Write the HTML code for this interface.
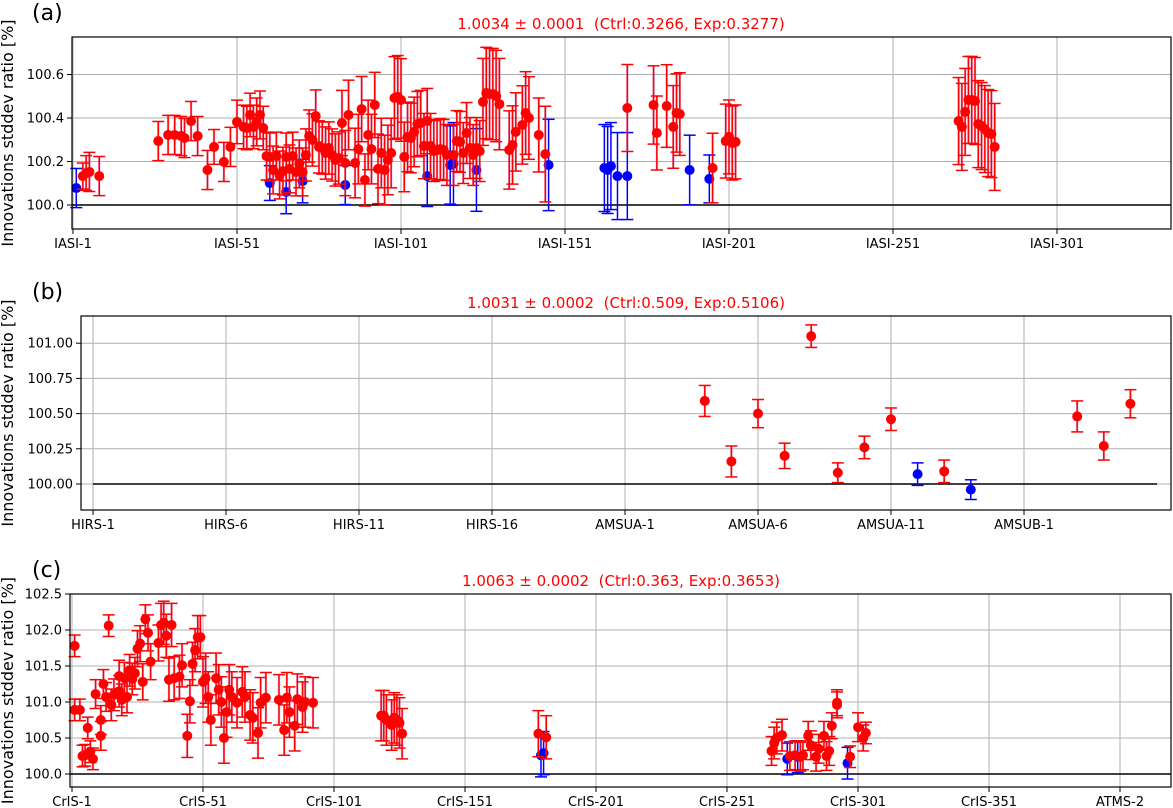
<!DOCTYPE html>
<html><head><meta charset="utf-8"><style>
body{margin:0;background:#fff;}
svg{display:block;font-family:"DejaVu Sans","Liberation Sans",sans-serif;}
text{white-space:pre;}
</style></head><body>
<svg id="fig" width="1173" height="808" viewBox="0 0 1173 808" xmlns="http://www.w3.org/2000/svg"></svg>
<script>
// ---------- Panel (a) data: IASI ----------
const aTickLabels = ["IASI-1","IASI-51","IASI-101","IASI-151","IASI-201","IASI-251","IASI-301"];
const aTickIdx = [0,50,100,150,200,250,300];
const aYTicks = [100.0,100.2,100.4,100.6];
const aBlueCh = [1,60,65,70,83,108,115,116,123,145,162,163,164,166,169,188,194];
const aBlueVal = [100.078,100.101,100.060,100.110,100.092,100.133,100.184,100.189,100.161,100.184,100.170,100.161,100.179,100.133,100.133,100.161,100.120];
const aBlueErr = [0.09,0.08,0.10,0.10,0.09,0.14,0.18,0.19,0.19,0.21,0.20,0.20,0.20,0.20,0.20,0.16,0.11];
const aRedCh = [3,4,5,8,26,29,31,33,34,36,38,41,43,46,48,50,52,53,54,55,56,57,58,59,60,61,62,63,64,65,66,67,68,69,70,71,72,73,74,75,76,77,78,79,80,81,82,83,84,86,87,88,89,90,91,92,93,94,95,96,97,98,99,100,101,102,103,104,105,106,107,108,109,110,111,112,113,114,116,117,118,119,120,121,122,123,124,125,126,127,128,129,130,133,134,135,137,138,139,142,144,169,177,178,181,183,184,185,195,199,200,201,202,270,271,272,273,274,275,276,277,278,279,280,281];
const aRedVal = [100.133,100.147,100.152,100.133,100.294,100.322,100.322,100.317,100.308,100.386,100.317,100.161,100.267,100.198,100.267,100.382,100.359,100.354,100.414,100.359,100.382,100.414,100.354,100.225,100.221,100.161,100.225,100.138,100.156,100.221,100.166,100.225,100.152,100.189,100.152,100.230,100.317,100.299,100.409,100.267,100.262,100.239,100.262,100.230,100.207,100.216,100.377,100.193,100.414,100.193,100.257,100.441,100.115,100.322,100.257,100.460,100.166,100.239,100.161,100.207,100.239,100.492,100.497,100.483,100.221,100.313,100.308,100.336,100.372,100.377,100.271,100.386,100.271,100.248,100.253,100.257,100.253,100.230,100.230,100.294,100.290,100.239,100.331,100.262,100.230,100.262,100.248,100.474,100.515,100.510,100.510,100.501,100.464,100.253,100.276,100.336,100.368,100.423,100.400,100.322,100.234,100.446,100.460,100.331,100.455,100.359,100.423,100.418,100.170,100.294,100.313,100.285,100.290,100.386,100.359,100.428,100.483,100.483,100.478,100.372,100.363,100.349,100.331,100.326,100.267];
const aRedErr = [0.06,0.08,0.09,0.09,0.09,0.09,0.09,0.09,0.09,0.09,0.09,0.09,0.08,0.09,0.09,0.10,0.10,0.10,0.10,0.10,0.11,0.11,0.10,0.11,0.11,0.11,0.11,0.11,0.11,0.11,0.11,0.11,0.11,0.11,0.11,0.12,0.12,0.12,0.12,0.12,0.12,0.12,0.12,0.12,0.12,0.12,0.15,0.15,0.16,0.16,0.16,0.15,0.12,0.16,0.16,0.15,0.16,0.16,0.16,0.16,0.16,0.19,0.19,0.19,0.16,0.16,0.16,0.16,0.15,0.15,0.15,0.15,0.15,0.14,0.14,0.14,0.14,0.14,0.14,0.14,0.14,0.14,0.14,0.14,0.14,0.14,0.14,0.20,0.21,0.21,0.21,0.21,0.21,0.18,0.18,0.18,0.18,0.19,0.19,0.17,0.22,0.20,0.18,0.17,0.19,0.19,0.18,0.19,0.16,0.17,0.17,0.17,0.17,0.20,0.20,0.20,0.20,0.20,0.20,0.20,0.20,0.20,0.20,0.20,0.20];

// ---------- Panel (b) data: HIRS / AMSU ----------
const bTickLabels = ["HIRS-1","HIRS-6","HIRS-11","HIRS-16","AMSUA-1","AMSUA-6","AMSUA-11","AMSUB-1"];
const bTickIdx = [0,5,10,15,20,25,30,35];
const bYTicks = [100.00,100.25,100.50,100.75,101.00];
const bBlueCh = [31,33];
const bBlueVal = [100.07,99.96];
const bBlueErr = [0.08,0.07];
const bRedCh = [23,24,25,26,27,28,29,30,32,37,38,39];
const bRedVal = [100.59,100.16,100.50,100.20,101.05,100.08,100.26,100.46,100.09,100.48,100.27,100.57];
const bRedErr = [0.11,0.11,0.10,0.09,0.08,0.07,0.08,0.08,0.08,0.11,0.10,0.10];

// ---------- Panel (c) data: CrIS ----------
const cTickLabels = ["CrIS-1","CrIS-51","CrIS-101","CrIS-151","CrIS-201","CrIS-251","CrIS-301","CrIS-351","ATMS-2"];
const cTickIdx = [0,50,100,150,200,250,300,350,400];
const cYTicks = [100.0,100.5,101.0,101.5,102.0,102.5];
const cBlueCh = [179,180,273,277,296];
const cBlueVal = [100.26,100.29,100.21,100.24,100.15];
const cBlueErr = [0.30,0.30,0.22,0.22,0.22];
const cRedCh = [1,1,3,6,4,5,7,8,11,11,9,12,13,14,15,16,18,18,19,21,20,22,24,23,25,26,27,28,29,30,33,34,35,36,38,37,39,41,42,44,45,46,47,48,49,50,51,52,53,55,56,57,58,59,60,61,63,65,66,68,69,71,72,74,79,81,82,83,85,86,88,89,92,118,119,120,122,123,124,125,126,178,181,267,268,269,271,274,276,278,279,281,282,284,285,287,288,289,290,292,292,297,300,302,303];
const cRedVal = [101.78,100.89,100.89,100.64,100.25,100.26,100.31,100.21,100.75,100.53,101.11,101.25,101.07,102.06,100.96,101.10,101.15,101.36,101.03,101.07,101.33,101.44,101.40,101.32,101.74,101.81,101.28,102.15,101.96,101.56,101.82,102.07,102.10,101.92,102.07,101.31,101.33,101.35,101.51,100.53,101.01,101.53,101.72,101.90,101.90,101.28,101.33,101.07,100.75,101.33,101.17,101.00,100.50,100.86,101.17,101.07,100.99,101.14,101.07,100.82,100.78,100.57,100.99,101.06,101.03,100.61,101.06,100.86,100.67,101.04,100.93,101.00,100.99,100.81,100.81,100.75,100.68,100.78,100.75,100.71,100.56,100.56,100.51,100.32,100.43,100.50,100.54,100.25,100.26,100.24,100.26,100.53,100.40,100.24,100.35,100.53,100.25,100.32,100.67,100.99,100.96,100.24,100.65,100.50,100.57];
const cRedErr = [0.15,0.15,0.15,0.15,0.15,0.15,0.15,0.15,0.20,0.20,0.20,0.20,0.20,0.15,0.22,0.22,0.22,0.22,0.22,0.22,0.22,0.22,0.22,0.22,0.25,0.25,0.25,0.20,0.25,0.25,0.25,0.30,0.30,0.30,0.30,0.30,0.30,0.30,0.30,0.30,0.30,0.30,0.30,0.30,0.30,0.35,0.35,0.35,0.35,0.35,0.35,0.35,0.35,0.35,0.35,0.35,0.35,0.35,0.35,0.35,0.35,0.35,0.35,0.35,0.35,0.35,0.35,0.35,0.35,0.35,0.35,0.35,0.35,0.35,0.35,0.35,0.35,0.35,0.35,0.35,0.35,0.32,0.30,0.20,0.22,0.22,0.22,0.20,0.20,0.20,0.20,0.20,0.20,0.20,0.20,0.20,0.20,0.20,0.18,0.18,0.18,0.15,0.20,0.18,0.15];

const NS = "http://www.w3.org/2000/svg";
const svg = document.getElementById("fig");
function mk(tag, attrs, parent, text){
  const e = document.createElementNS(NS, tag);
  for (const k in attrs) e.setAttribute(k, attrs[k]);
  if (text !== undefined) e.textContent = text;
  (parent || svg).appendChild(e);
  return e;
}

function panel(cfg){
  const g = mk("g", {});
  
  
  const X = i => cfg.x0 + i * cfg.dx;
  const Y = v => cfg.y0 - (v - 100) * cfg.dy;
  cfg.xTickIdx.forEach((t, k) => {
    const x = X(t);
    const gl = mk("line", {x1:x, x2:x, y1:cfg.top, y2:cfg.bottom, stroke:"#b0b0b0", "stroke-width":1}, g);
    
    
    mk("line", {x1:x, x2:x, y1:cfg.bottom, y2:cfg.bottom+5, stroke:"#000", "stroke-width":1}, g);
    const tl = mk("text", {x:x, y:cfg.bottom+19, "text-anchor":"middle", "font-size":13, fill:"#000"}, g, cfg.xTickLabels[k]);
    
    
  });
  cfg.yTicks.forEach(v => {
    const y = Y(v);
    const gl = mk("line", {x1:cfg.left, x2:cfg.right, y1:y, y2:y, stroke:"#b0b0b0", "stroke-width":1}, g);
    
    
    mk("line", {x1:cfg.left-5, x2:cfg.left, y1:y, y2:y, stroke:"#000", "stroke-width":1}, g);
    const tl = mk("text", {x:cfg.left-8, y:y+4.5, "text-anchor":"end", "font-size":13, fill:"#000"}, g, v.toFixed(cfg.yDec));
    
    
  });
  const zl = mk("line", {x1:cfg.zx1 !== undefined ? X(cfg.zx1) : cfg.left, x2:cfg.zx2 !== undefined ? X(cfg.zx2) : cfg.right, y1:Y(100), y2:Y(100), stroke:"#000", "stroke-width":1.5}, g);
  
  
  function series(ch, val, err, color, barColor, nm){
    ch.forEach((c, i) => {
      const x = X(c), y1 = Y(val[i] + err[i]), y2 = Y(val[i] - err[i]);
      const eb = mk("g", {}, g);
      
      
      if (barColor === "red") {
        mk("line", {x1:x, x2:x, y1:y1, y2:y2, stroke:"#b050b0", "stroke-width":2.5, opacity:0.35}, eb);
      }
      mk("line", {x1:x, x2:x, y1:y1, y2:y2, stroke:barColor, "stroke-width":1.5}, eb);
      mk("line", {x1:x-6, x2:x+6, y1:y1, y2:y1, stroke:barColor, "stroke-width":1.5}, eb);
      mk("line", {x1:x-6, x2:x+6, y1:y2, y2:y2, stroke:barColor, "stroke-width":1.5}, eb);
    });
    ch.forEach((c, i) => {
      const p = mk("circle", {cx:X(c), cy:Y(val[i]), r:5, fill:color}, g);
      
      
    });
  }
  series(cfg.blueCh, cfg.blueVal, cfg.blueErr, "#0000ff", "#0000ff", "blue");
  series(cfg.redCh, cfg.redVal, cfg.redErr, "#ff0000", "red", "red");
  const fr = mk("rect", {x:cfg.left, y:cfg.top, width:cfg.right-cfg.left, height:cfg.bottom-cfg.top, fill:"none", stroke:"#000", "stroke-width":1.2}, g);
  
  
  const t = mk("text", {x:cfg.titleX, y:cfg.top-8, "text-anchor":"middle", "font-size":15, fill:"#ff0000"}, g, cfg.title);
  
  
  const pl = mk("text", {x:32, y:cfg.top-17, "font-size":22, fill:"#000"}, g, cfg.label);
  
  
  const cy = (cfg.top + cfg.bottom) / 2;
  const yl = mk("text", {x:0, y:0, transform:"translate(13," + cy + ") rotate(-90)", "text-anchor":"middle", "font-size":16, fill:"#000"}, g, "Innovations stddev ratio [%]");
  
  
}

panel({name:"panel-a-iasi", label:"(a)", title:"1.0034 \u00b1 0.0001  (Ctrl:0.3266, Exp:0.3277)", titleX:621,
  left:72, right:1171, top:37, bottom:229, x0:73, dx:3.28, y0:205, dy:217.5, yDec:1,
  xTickIdx:aTickIdx, xTickLabels:aTickLabels, yTicks:aYTicks,
  blueCh:aBlueCh, blueVal:aBlueVal, blueErr:aBlueErr, redCh:aRedCh, redVal:aRedVal, redErr:aRedErr});
panel({name:"panel-b-hirs-amsu", label:"(b)", title:"1.0031 \u00b1 0.0002  (Ctrl:0.509, Exp:0.5106)", titleX:626,
  left:81, right:1171, top:316, bottom:510, x0:93, dx:26.6, y0:484, dy:140.8, yDec:2, zx1:0, zx2:40,
  xTickIdx:bTickIdx, xTickLabels:bTickLabels, yTicks:bYTicks,
  blueCh:bBlueCh, blueVal:bBlueVal, blueErr:bBlueErr, redCh:bRedCh, redVal:bRedVal, redErr:bRedErr});
panel({name:"panel-c-cris", label:"(c)", title:"1.0063 \u00b1 0.0002  (Ctrl:0.363, Exp:0.3653)", titleX:621,
  left:70, right:1171, top:594, bottom:787, x0:72, dx:2.62, y0:774, dy:72, yDec:1,
  xTickIdx:cTickIdx, xTickLabels:cTickLabels, yTicks:cYTicks,
  blueCh:cBlueCh, blueVal:cBlueVal, blueErr:cBlueErr, redCh:cRedCh, redVal:cRedVal, redErr:cRedErr});
</script>
</body></html>
